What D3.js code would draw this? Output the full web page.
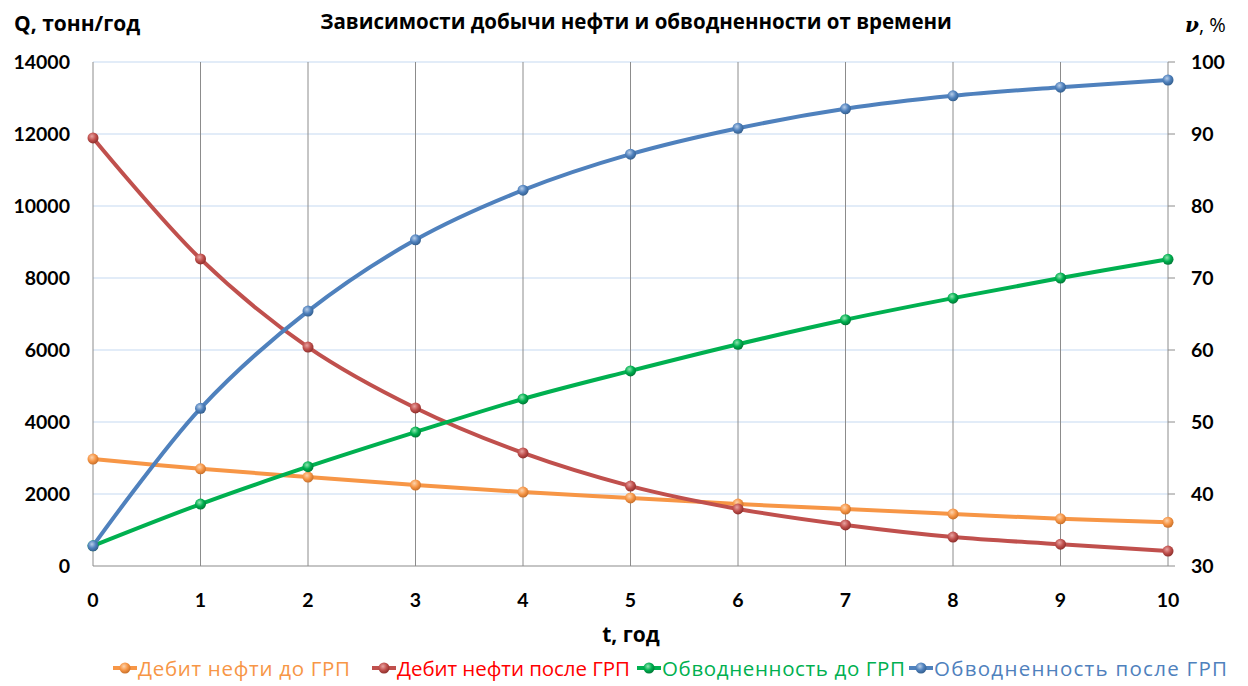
<!DOCTYPE html>
<html><head><meta charset="utf-8">
<script src="https://cdn.jsdelivr.net/npm/d3@7"></script>
<style>
html,body{margin:0;padding:0;background:#fff;}
svg{display:block;font-family:"Open Sans",Lato,sans-serif;}
</style></head>
<body>
<svg id="chart" width="1248" height="686"></svg>
<script>
// Time, years
const years = [0,1,2,3,4,5,6,7,8,9,10];
// Oil rate, t/year (left axis)
const rateBefore = [2970,2700,2470,2250,2055,1890,1720,1580,1445,1310,1215];
const rateAfter  = [11890,8530,6080,4390,3140,2220,1585,1140,805,605,415];
// Water cut, % (right axis)
const cutBefore = [32.8,38.6,43.8,48.6,53.2,57.1,60.8,64.2,67.2,70.0,72.6];
const cutAfter  = [32.8,51.9,65.4,75.3,82.2,87.2,90.8,93.5,95.3,96.5,97.5];
const leftTicks = [0,2000,4000,6000,8000,10000,12000,14000];
const rightTicks = [30,40,50,60,70,80,90,100];

const svg = d3.select("#chart");
const L = 93, R = 1168, T = 62, B = 566;

const x = d3.scaleLinear().domain([0,10]).range([L,R]);
const yL = d3.scaleLinear().domain([0,14000]).range([B,T]);
const yR = d3.scaleLinear().domain([30,100]).range([B,T]);

// marker gradients
const defs = svg.append("defs");
function grad(id, light, mid, dark){
  const g = defs.append("radialGradient").attr("id",id).attr("cx","40%").attr("cy","35%").attr("r","65%");
  g.append("stop").attr("offset","0%").attr("stop-color",light);
  g.append("stop").attr("offset","55%").attr("stop-color",mid);
  g.append("stop").attr("offset","100%").attr("stop-color",dark);
}
grad("gO","#fcd3ad","#f79646","#c8702a");
grad("gR","#e8a3a1","#c0504d","#8e2f2c");
grad("gG","#8fe5b0","#00b050","#007a36");
grad("gB","#b7cde8","#4f81bd","#35608f");

// horizontal gridlines
svg.append("g").selectAll("line").data(leftTicks.filter(d=>d>0)).join("line")
  .attr("x1",L).attr("x2",R).attr("y1",d=>yL(d)).attr("y2",d=>yL(d))
  .attr("stroke","#c6d9f1").attr("stroke-width",1.2);
// vertical gridlines
svg.append("g").selectAll("line").data(years).join("line")
  .attr("x1",d=>x(d)).attr("x2",d=>x(d)).attr("y1",T).attr("y2",B)
  .attr("stroke","#8c8c8c").attr("stroke-width",1);
// bottom axis line
svg.append("line").attr("x1",L).attr("x2",R).attr("y1",B).attr("y2",B)
  .attr("stroke","#8c8c8c").attr("stroke-width",1.2);
// right axis ticks
svg.append("g").selectAll("line").data(rightTicks).join("line")
  .attr("x1",R).attr("x2",R+7).attr("y1",d=>yR(d)).attr("y2",d=>yR(d))
  .attr("stroke","#8c8c8c");

const tickStyle = s => s.attr("font-family","Lato,sans-serif").attr("font-size",19.5).attr("font-weight","bold").attr("fill","#000");
svg.append("g").selectAll("text").data(leftTicks).join("text")
  .attr("x",70).attr("y",d=>yL(d)+7).attr("text-anchor","end").text(d=>d).call(tickStyle);
svg.append("g").selectAll("text").data(rightTicks).join("text")
  .attr("x",1191).attr("y",d=>yR(d)+7).attr("text-anchor","start").text(d=>d).call(tickStyle);
svg.append("g").selectAll("text").data(years).join("text")
  .attr("x",d=>x(d)).attr("y",607).attr("text-anchor","middle").text(d=>d).call(tickStyle);

// titles
svg.append("text").attr("x",636).attr("y",29).attr("text-anchor","middle")
  .attr("font-size",20.5).attr("font-weight","bold").text("Зависимости  добычи нефти и обводненности от времени");
svg.append("text").attr("x",14).attr("y",31).attr("font-size",21).attr("font-weight","bold").text("Q, тонн/год");
const nu = svg.append("text").attr("x",1185).attr("y",32).attr("font-size",20).attr("font-weight","bold");
nu.append("tspan").attr("font-family","'DejaVu Serif',serif").attr("font-style","italic").text("ν");
nu.append("tspan").attr("font-weight","normal").text(", %");
svg.append("text").attr("x",631).attr("y",642).attr("text-anchor","middle")
  .attr("font-size",21).attr("font-weight","bold").text("t, год");

// series
const series = [
  {name:"Дебит нефти до ГРП", vals:rateBefore, y:yL, color:"#f79646", text:"#f79646", g:"gO"},
  {name:"Дебит нефти после ГРП", vals:rateAfter, y:yL, color:"#c0504d", text:"#ff0000", g:"gR"},
  {name:"Обводненность до ГРП", vals:cutBefore, y:yR, color:"#00b050", text:"#00b050", g:"gG"},
  {name:"Обводненность после ГРП", vals:cutAfter, y:yR, color:"#4f81bd", text:"#4f81bd", g:"gB"}
];
series.forEach(s=>{
  const line = d3.line().x((d,i)=>x(years[i])).y(d=>s.y(d)).curve(d3.curveCatmullRom.alpha(0.5));
  svg.append("path").datum(s.vals).attr("d",line).attr("fill","none")
    .attr("stroke",s.color).attr("stroke-width",4);
});
series.forEach(s=>{
  svg.append("g").selectAll("circle").data(s.vals).join("circle")
    .attr("cx",(d,i)=>x(years[i])).attr("cy",d=>s.y(d)).attr("r",5.5)
    .attr("fill",`url(#${s.g})`);
});

// legend: entry offsets and text widths
const legX = [113, 372, 637, 909];
const legW = [212, 233, 243, 293];
series.forEach((s,i)=>{
  const g = svg.append("g").attr("transform",`translate(${legX[i]},668)`);
  g.append("line").attr("x1",0).attr("x2",24).attr("y1",0).attr("y2",0).attr("stroke",s.color).attr("stroke-width",4);
  g.append("circle").attr("cx",12).attr("cy",0).attr("r",5.5).attr("fill",`url(#${s.g})`);
  g.append("text").attr("x",25).attr("y",7.5).attr("font-size",20.5).attr("fill",s.text)
    .attr("textLength",legW[i]).attr("lengthAdjust","spacing").text(s.name);
});
</script>
</body></html>
